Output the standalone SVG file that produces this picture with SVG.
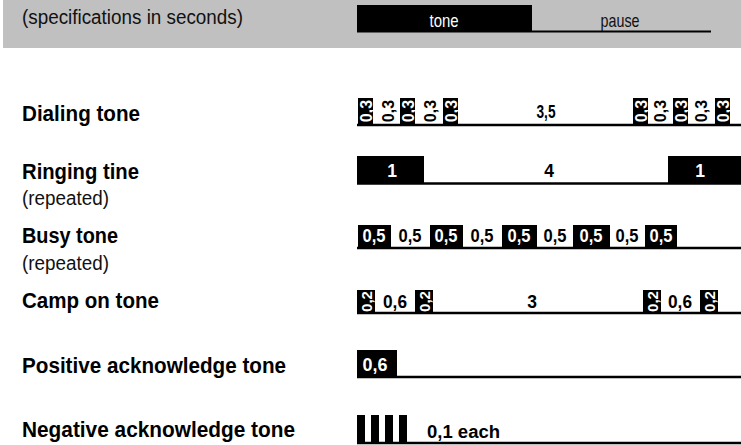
<svg xmlns="http://www.w3.org/2000/svg" width="741" height="445" viewBox="0 0 741 445">
<style>
.lbl{font-family:"Liberation Sans",Arial,sans-serif;font-weight:bold;font-size:22.5px;fill:#000}
.sub{font-family:"Liberation Sans",Arial,sans-serif;font-size:19.5px;fill:#111}
.num{font-family:"Liberation Sans",Arial,sans-serif;font-weight:bold;font-size:17.5px;text-anchor:middle}
.rot{font-size:16px}
.w{fill:#fff}
.k{fill:#000}
.leg{font-family:"Liberation Sans",Arial,sans-serif;font-size:18.5px;text-anchor:middle}
.base{stroke:#000;stroke-width:2.5;fill:none}
</style>
<rect x="0" y="0" width="741" height="445" fill="#fff"/>
<g id="header">
<rect x="3" y="0" width="738" height="48" fill="#c0c0c0"/>
<text class="sub" x="22" y="24" textLength="221" lengthAdjust="spacingAndGlyphs" fill="#1a1a1a">(specifications in seconds)</text>
<g id="legend">
<rect x="357" y="5" width="175" height="26" fill="#000"/>
<line x1="357" y1="31.5" x2="711" y2="31.5" stroke="#000" stroke-width="2"/>
<text class="leg w" x="444" y="27" textLength="29" lengthAdjust="spacingAndGlyphs">tone</text>
<text class="leg" x="620" y="27" textLength="39" lengthAdjust="spacingAndGlyphs" fill="#111">pause</text>
</g>
</g>
<g id="labels">
<text class="lbl" x="22" y="121" textLength="118" lengthAdjust="spacingAndGlyphs">Dialing tone</text>
<text class="lbl" x="22" y="179" textLength="117" lengthAdjust="spacingAndGlyphs">Ringing tine</text>
<text class="sub" x="22" y="205" textLength="87" lengthAdjust="spacingAndGlyphs">(repeated)</text>
<text class="lbl" x="22" y="243" textLength="96" lengthAdjust="spacingAndGlyphs">Busy tone</text>
<text class="sub" x="22" y="270" textLength="87" lengthAdjust="spacingAndGlyphs">(repeated)</text>
<text class="lbl" x="22" y="308" textLength="137" lengthAdjust="spacingAndGlyphs">Camp on tone</text>
<text class="lbl" x="22" y="373" textLength="264" lengthAdjust="spacingAndGlyphs">Positive acknowledge tone</text>
<text class="lbl" x="22" y="437" textLength="273" lengthAdjust="spacingAndGlyphs">Negative acknowledge tone</text>
</g>
<g id="dialing">
<rect x="358" y="98" width="15" height="27" class="k"/>
<rect x="400" y="98" width="15" height="27" class="k"/>
<rect x="443" y="98" width="15" height="27" class="k"/>
<rect x="633" y="98" width="15" height="27" class="k"/>
<rect x="673" y="98" width="15" height="27" class="k"/>
<rect x="715" y="98" width="15" height="27" class="k"/>
<text class="num rot w" transform="translate(365.5,111) rotate(-90)" y="6">0,3</text>
<text class="num rot k" transform="translate(388,111) rotate(-90)" y="6">0,3</text>
<text class="num rot w" transform="translate(407.5,111) rotate(-90)" y="6">0,3</text>
<text class="num rot k" transform="translate(429.5,111) rotate(-90)" y="6">0,3</text>
<text class="num rot w" transform="translate(450.5,111) rotate(-90)" y="6">0,3</text>
<text class="num k" x="546" y="118" textLength="19" lengthAdjust="spacingAndGlyphs">3,5</text>
<text class="num rot w" transform="translate(640.5,111) rotate(-90)" y="6">0,3</text>
<text class="num rot k" transform="translate(660,111) rotate(-90)" y="6">0,3</text>
<text class="num rot w" transform="translate(680.5,111) rotate(-90)" y="6">0,3</text>
<text class="num rot k" transform="translate(701,111) rotate(-90)" y="6">0,3</text>
<text class="num rot w" transform="translate(722.5,111) rotate(-90)" y="6">0,3</text>
<line class="base" x1="357" y1="125" x2="741" y2="125"/>
</g>
<g id="ringing">
<rect x="357" y="156" width="67" height="27" class="k"/>
<rect x="668" y="156" width="73" height="27" class="k"/>
<text class="num w" x="392" y="177">1</text>
<text class="num k" x="549" y="177">4</text>
<text class="num w" x="700" y="177">1</text>
<line class="base" x1="357" y1="183.5" x2="741" y2="183.5"/>
</g>
<g id="busy">
<rect x="358" y="225" width="33" height="23" class="k"/>
<rect x="430" y="225" width="33" height="23" class="k"/>
<rect x="502" y="225" width="35" height="23" class="k"/>
<rect x="573" y="225" width="37" height="23" class="k"/>
<rect x="645" y="225" width="32" height="23" class="k"/>
<text class="num w" x="374" y="242" textLength="23" lengthAdjust="spacingAndGlyphs">0,5</text>
<text class="num k" x="410" y="242" textLength="23" lengthAdjust="spacingAndGlyphs">0,5</text>
<text class="num w" x="446" y="242" textLength="23" lengthAdjust="spacingAndGlyphs">0,5</text>
<text class="num k" x="482" y="242" textLength="23" lengthAdjust="spacingAndGlyphs">0,5</text>
<text class="num w" x="519" y="242" textLength="23" lengthAdjust="spacingAndGlyphs">0,5</text>
<text class="num k" x="555" y="242" textLength="23" lengthAdjust="spacingAndGlyphs">0,5</text>
<text class="num w" x="591" y="242" textLength="23" lengthAdjust="spacingAndGlyphs">0,5</text>
<text class="num k" x="627" y="242" textLength="23" lengthAdjust="spacingAndGlyphs">0,5</text>
<text class="num w" x="661" y="242" textLength="23" lengthAdjust="spacingAndGlyphs">0,5</text>
<line class="base" x1="357" y1="248" x2="741" y2="248"/>
</g>
<g id="camp">
<rect x="357" y="290" width="18" height="23" class="k"/>
<rect x="415" y="290" width="18" height="23" class="k"/>
<rect x="643" y="290" width="18" height="23" class="k"/>
<rect x="700" y="290" width="18" height="23" class="k"/>
<text class="num w" transform="translate(366,301.5) rotate(-90)" y="6" style="font-size:15px">0,2</text>
<text class="num k" x="395" y="308" textLength="24" lengthAdjust="spacingAndGlyphs">0,6</text>
<text class="num w" transform="translate(424,301.5) rotate(-90)" y="6" style="font-size:15px">0,2</text>
<text class="num k" x="532" y="308">3</text>
<text class="num w" transform="translate(652,301.5) rotate(-90)" y="6" style="font-size:15px">0,2</text>
<text class="num k" x="680" y="308" textLength="24" lengthAdjust="spacingAndGlyphs">0,6</text>
<text class="num w" transform="translate(709,301.5) rotate(-90)" y="6" style="font-size:15px">0,2</text>
<line class="base" x1="357" y1="313" x2="741" y2="313"/>
</g>
<g id="positive">
<rect x="357" y="350" width="40" height="27" class="k"/>
<text class="num w" x="375" y="371" textLength="25" lengthAdjust="spacingAndGlyphs">0,6</text>
<line class="base" x1="357" y1="377" x2="741" y2="377"/>
</g>
<g id="negative">
<rect x="357" y="415" width="8" height="28" class="k"/>
<rect x="371" y="415" width="8" height="28" class="k"/>
<rect x="385" y="415" width="8" height="28" class="k"/>
<rect x="399" y="415" width="8" height="28" class="k"/>
<text class="num k" x="463.5" y="438" textLength="73" lengthAdjust="spacingAndGlyphs">0,1 each</text>
<line class="base" x1="357" y1="443" x2="741" y2="443"/>
</g>
</svg>
